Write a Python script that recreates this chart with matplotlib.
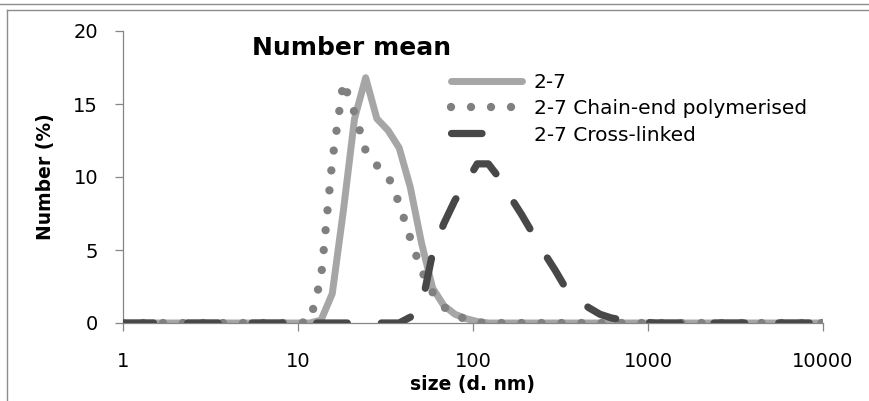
"""Number mean size distribution of 2-7 samples (DLS)."""

import matplotlib

matplotlib.use("Agg")
import matplotlib.pyplot as plt
from matplotlib.lines import Line2D

plt.rcParams["font.family"] = ["DejaVu Sans"]
plt.rcParams["lines.scale_dashes"] = False

# size bins (d. nm) and number (%) for each sample
SIZE_BASE = [1, 11.7, 13.54, 15.69, 18.17, 21.04, 24.36, 28.21, 32.67, 37.84, 43.82,
             50.75, 58.77, 68.06, 78.82, 91.28, 105.7, 122.4, 10000]
NUM_BASE = [0, 0, 0.2, 2.0, 7.7, 14.0, 16.8, 14.0, 13.2, 12.0, 9.3,
            5.5, 2.4, 1.2, 0.6, 0.3, 0.1, 0.0, 0]

SIZE_CHAIN = [1, 10.1, 11.7, 13.54, 15.69, 18.17, 21.04, 24.36, 28.21, 32.67, 37.84,
              43.82, 50.75, 58.77, 68.06, 78.82, 91.28, 105.7, 122.4, 10000]
NUM_CHAIN = [0, 0, 0.1, 3.1, 11.1, 16.5, 14.4, 11.8, 10.8, 10.1, 8.2,
             5.8, 3.6, 2.1, 1.1, 0.55, 0.25, 0.05, 0, 0]

SIZE_CROSS = [1, 37.84, 43.82, 50.75, 58.77, 68.06, 78.82, 91.28, 105.7, 122.4, 141.8,
              164.2, 190.1, 220.2, 255, 295.3, 342, 396.1, 458.7, 531.2, 615.1,
              712.4, 825, 955.4, 1106, 10000]
NUM_CROSS = [0, 0, 0.4, 1.1, 4.8, 6.8, 8.4, 9.6, 10.9, 10.9, 9.9,
             8.6, 7.4, 6.1, 4.8, 3.6, 2.3, 1.6, 1.05, 0.6, 0.35,
             0.2, 0.15, 0.05, 0, 0]

LABELS = ["2-7", "2-7 Chain-end polymerised", "2-7 Cross-linked"]
X_TICKS = [1, 10, 100, 1000, 10000]
Y_TICKS = [0, 5, 10, 15, 20]

STYLES = [
    dict(color="#a6a6a6", lw=5, solid_capstyle="round", solid_joinstyle="round"),
    dict(color="#808080", lw=6, linestyle=(0, (0.001, 14.4)),
         dash_capstyle="round", dash_joinstyle="round"),
    dict(color="#484848", lw=5.2, linestyle=(0, (22, 24.5)),
         dash_capstyle="round", dash_joinstyle="round"),
]

W, H = 869, 401
fig = plt.figure(figsize=(W / 100, H / 100), dpi=100)
ax = fig.add_axes([123 / W, (H - 323) / H, 700 / W, 292 / H])

ax.plot(SIZE_BASE, NUM_BASE, zorder=2, **STYLES[0])
ax.plot(SIZE_CHAIN, NUM_CHAIN, zorder=3, **STYLES[1])
ax.plot(SIZE_CROSS, NUM_CROSS, zorder=4, **STYLES[2])

ax.set_xscale("log")
ax.set_xlim(1, 10000)
ax.set_ylim(0, 20)
ax.set_xticks(X_TICKS)
ax.set_xticklabels([str(t) for t in X_TICKS])
ax.xaxis.set_minor_locator(matplotlib.ticker.NullLocator())
ax.set_yticks(Y_TICKS)
ax.set_yticklabels([str(t) for t in Y_TICKS])

for side in ("top", "right"):
    ax.spines[side].set_visible(False)
for side in ("left", "bottom"):
    ax.spines[side].set_color("#868686")
    ax.spines[side].set_linewidth(0.9)
ax.tick_params(axis="both", direction="out", length=6, width=0.9, color="#868686",
               labelsize=14, labelcolor="black")
ax.tick_params(axis="x", pad=15)
ax.tick_params(axis="y", pad=12)

ax.set_xlabel("size (d. nm)", fontsize=13.5, fontweight="bold", va="center")
ax.xaxis.set_label_coords(0.5, -0.212)
ax.set_ylabel("Number (%)", fontsize=13.5, fontweight="bold", va="center")
ax.yaxis.set_label_coords(-0.111, 0.5)

ax.text(0.326, 0.942, "Number mean", transform=ax.transAxes, fontsize=18,
        fontweight="bold", ha="center", va="center")

# legend proxies: the dashed one shows a single dash like the original
handles = [Line2D([], [], **STYLES[0]), Line2D([], [], **STYLES[1]),
           Line2D([], [], **dict(STYLES[2], linestyle=(0, (22, 80))))]
ax.legend(handles, LABELS, loc="upper left", bbox_to_anchor=(0.469, 0.856),
          frameon=False, fontsize=14.5, handlelength=3.5, handletextpad=0.6,
          labelspacing=0.36, borderpad=0, borderaxespad=0)

# frame lines of the surrounding chart boxes
grey = "#8c8c8c"
fig.add_artist(Line2D([0, 1], [1 - 4 / H, 1 - 4 / H], transform=fig.transFigure,
                      color=grey, lw=1.0))
fig.add_artist(Line2D([7 / W, 1], [1 - 10 / H, 1 - 10 / H], transform=fig.transFigure,
                      color=grey, lw=1.0))
fig.add_artist(Line2D([7 / W, 7 / W], [0, 1 - 10 / H], transform=fig.transFigure,
                      color=grey, lw=1.0))

fig.savefig("out.png", dpi=100)
